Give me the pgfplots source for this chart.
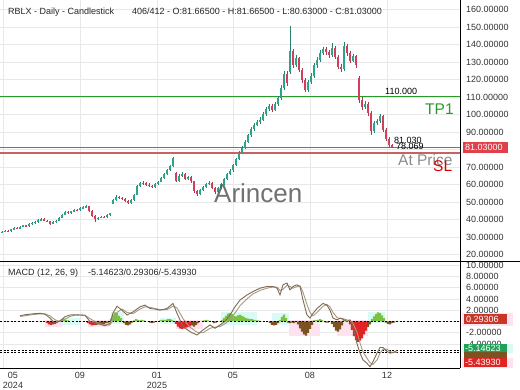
\documentclass[border=0pt]{standalone}
\usepackage{pgfplots}
\pgfplotsset{compat=1.18}
\usepackage{pgfplotstable}
\usepackage{fontspec}
\setmainfont{Liberation Sans}

\definecolor{gridc}{HTML}{E8E8E8}
\definecolor{upc}{HTML}{2AA58A}
\definecolor{dnc}{HTML}{D33F5A}
\definecolor{upw}{HTML}{2A8070}
\definecolor{dnw}{HTML}{A33A4E}
\definecolor{tpgreen}{HTML}{2A9A2A}
\definecolor{slred}{HTML}{C96262}
\definecolor{histg}{HTML}{7CC242}
\definecolor{histb}{HTML}{7B5222}
\definecolor{histr}{HTML}{E02424}
\definecolor{pinkbg}{HTML}{FDE2EF}
\definecolor{cyanbg}{HTML}{D9FBF5}
\definecolor{macdc}{HTML}{7D6B55}
\definecolor{sigc}{HTML}{A89880}
\definecolor{boxred}{HTML}{E0404A}
\definecolor{boxgreen}{HTML}{22A05A}
\definecolor{boxhist}{HTML}{C8352A}

\pgfplotstableread{
x o h l c
2 32.6 33.5 32.2 33.0
5 33.0 34.0 32.7 33.6
11 33.3 34.8 33.0 34.4
14 34.4 35.6 34.0 35.2
20 34.8 36.4 34.5 36.0
23 36.0 37.0 35.7 36.6
29 36.2 37.9 35.9 37.5
32 37.5 38.5 37.1 38.1
35 38.1 39.0 37.7 38.6
38 38.6 40.1 38.2 39.6
41 39.6 40.8 39.2 40.2
53 37.6 39.0 37.2 38.6
56 38.6 39.6 38.2 39.2
59 39.2 41.5 38.9 41.0
62 41.0 43.1 40.6 42.6
65 42.6 45.0 42.3 44.5
71 43.8 45.1 43.4 44.6
74 44.6 46.1 44.2 45.6
80 45.2 47.0 44.9 46.5
83 46.5 47.5 46.1 47.0
86 47.0 48.3 46.6 47.6
98 40.3 41.5 39.8 41.0
101 41.0 42.0 40.6 41.6
107 41.3 43.0 41.0 42.5
110 42.5 44.0 42.2 43.6
113 49.0 51.8 48.6 51.2
116 51.2 53.8 50.8 53.1
131 49.4 51.5 49.0 51.0
134 51.0 54.7 50.7 54.2
137 54.2 59.6 53.9 59.0
140 59.0 61.7 58.6 61.0
155 58.4 60.6 58.0 60.1
158 60.1 62.2 59.7 61.6
161 61.6 64.2 61.2 63.6
164 63.6 66.6 63.2 66.0
167 66.0 68.8 65.6 68.1
170 68.1 71.2 67.7 70.6
173 70.6 75.8 70.2 75.0
179 62.0 65.8 61.5 65.0
182 65.0 67.0 64.4 66.2
188 63.0 65.0 62.5 64.2
200 54.6 57.6 54.0 57.0
203 57.0 59.2 56.5 58.6
206 58.6 60.8 58.0 60.2
209 60.2 61.8 59.6 61.1
218 55.6 58.8 55.0 58.2
221 58.2 60.8 57.6 60.1
224 60.1 63.7 59.5 63.0
227 63.0 66.8 62.4 66.1
230 66.1 68.8 65.4 68.0
233 68.0 72.0 67.4 71.2
236 71.2 75.4 70.6 74.6
239 74.6 79.0 74.0 78.1
242 78.1 82.0 77.4 81.0
245 81.0 85.2 80.3 84.2
248 84.2 89.0 83.5 88.0
251 88.0 92.6 87.2 91.6
254 91.6 95.2 90.8 94.1
257 94.1 96.8 93.2 95.6
260 95.6 98.4 94.8 97.1
263 97.1 101.4 96.2 100.2
266 100.2 104.4 99.2 103.0
269 103.0 106.0 102.0 104.6
275 102.8 107.4 101.8 106.1
278 106.1 110.6 105.0 109.2
281 109.2 117.0 108.4 115.2
284 115.2 125.0 114.2 123.4
290 124.5 150.5 123.0 136.0
296 128.2 134.0 127.0 132.0
308 114.2 119.8 113.0 118.4
311 118.4 123.6 117.2 122.2
314 122.2 129.6 121.0 128.1
317 128.1 132.8 126.8 131.2
320 131.2 136.6 130.0 135.0
323 135.0 138.8 133.8 137.2
332 133.8 140.6 132.6 138.2
344 126.0 141.2 125.0 139.0
353 130.8 134.8 129.8 133.4
365 104.2 107.6 103.0 106.2
374 90.4 96.2 89.6 95.0
377 95.0 97.4 93.8 96.2
380 96.2 100.2 95.2 99.0
}\upcandles

\pgfplotstableread{
x o h l c
8 33.6 34.2 33.0 33.3
17 35.2 35.7 34.3 34.8
26 36.6 37.1 35.8 36.2
44 40.2 40.6 39.0 39.4
47 39.4 39.9 38.4 38.9
50 38.9 39.2 37.0 37.6
68 44.5 45.0 43.3 43.8
77 45.6 46.2 44.8 45.2
89 47.6 47.9 44.5 45.0
92 45.0 45.3 41.4 42.0
95 42.0 42.4 38.8 40.3
104 41.6 42.1 40.8 41.3
119 53.1 53.6 51.8 52.4
122 52.4 52.9 51.2 51.8
125 51.8 52.2 49.8 50.4
128 50.4 50.9 48.8 49.4
143 61.0 61.8 60.0 60.6
146 60.6 61.2 59.4 60.0
149 60.0 60.6 58.8 59.4
152 59.4 59.9 57.8 58.4
176 66.5 67.0 61.2 62.0
185 66.2 66.8 62.3 63.0
191 64.2 64.8 61.0 61.8
194 61.8 62.2 55.4 56.2
197 56.2 56.8 53.6 54.6
212 61.1 61.6 57.4 58.0
215 58.0 58.5 54.8 55.6
272 104.6 106.0 101.4 102.8
287 123.4 124.6 116.2 117.8
293 136.0 137.4 126.8 128.2
299 132.0 133.0 124.0 125.6
302 125.6 126.8 118.2 119.8
305 119.8 121.0 112.6 114.2
326 137.2 138.6 134.2 135.8
329 135.8 137.0 132.2 133.8
335 138.2 139.4 131.6 133.0
338 133.0 134.2 125.8 127.2
341 127.2 129.0 124.4 126.0
347 139.0 140.2 133.6 135.2
350 135.2 136.4 129.4 130.8
356 133.4 134.2 126.6 128.0
359 121.0 122.0 106.8 108.4
362 108.4 109.8 102.6 104.2
368 106.2 107.2 99.2 100.8
371 100.8 101.8 88.4 90.4
383 99.0 99.8 90.0 91.2
386 91.2 92.0 85.0 86.2
389 86.2 87.0 81.4 82.6
392 82.6 83.2 80.6 81.4
395 81.665 81.665 80.63 81.03
}\dncandles

\pgfplotstableread{
x v
60 0.2
62 0.4
64 0.5
66 0.3
68 0.2
111 0.5
113 1.2
115 1.6
117 1.5
119 1.0
121 0.6
134 0.2
136 0.4
138 0.3
140 0.2
142 0.3
144 0.2
160 0.2
162 0.3
164 0.3
166 0.3
168 0.4
170 0.4
172 0.3
204 0.2
206 0.3
208 0.2
210 0.1
222 0.3
224 0.6
226 1.0
228 1.4
230 1.5
232 1.3
234 1.0
236 0.9
238 1.1
240 1.2
242 1.0
244 0.8
246 0.6
248 0.5
250 0.4
252 0.4
254 0.3
256 0.2
258 0.2
260 0.1
280 0.3
282 0.8
284 1.2
286 0.6
314 0.2
316 0.3
318 0.3
320 0.4
322 0.3
344 0.3
346 0.2
372 0.4
374 0.9
376 1.3
378 1.6
380 1.5
382 1.1
384 0.6
396 0.1
}\histgreen

\pgfplotstableread{
x v
53 -0.5
55 -0.4
57 -0.2
96 -0.6
98 -0.5
100 -0.4
102 -0.5
104 -0.4
106 -0.3
108 -0.2
124 -0.3
126 -0.6
128 -0.7
130 -0.5
132 -0.2
150 -0.2
152 -0.3
154 -0.2
192 -0.7
194 -0.9
196 -0.6
198 -0.3
214 -0.3
216 -0.2
270 -0.3
272 -0.6
274 -0.7
276 -0.6
278 -0.3
288 -0.2
290 -0.3
292 -0.2
294 -0.3
298 -0.5
300 -1.2
302 -1.8
304 -2.3
306 -2.5
308 -2.0
310 -1.3
312 -0.6
326 -0.2
328 -0.2
332 -0.4
334 -1.0
336 -1.6
338 -1.8
340 -1.4
342 -0.7
368 -1.0
370 -0.5
386 -0.2
388 -0.4
390 -0.5
392 -0.3
394 -0.2
}\histbrown

\pgfplotstableread{
x v
47 -0.3
49 -0.5
51 -0.6
88 -0.3
90 -0.5
92 -0.7
94 -0.6
176 -0.4
178 -0.9
180 -1.2
182 -1.3
184 -1.2
186 -1.1
188 -1.0
190 -0.8
350 -0.5
352 -1.5
354 -2.6
356 -3.3
358 -3.6
360 -3.4
362 -3.0
364 -2.3
366 -1.6
}\histred

\pgfplotstableread{
x m s
20 1.0 0.9
25 1.2 1.0
30 1.3 1.15
35 1.4 1.25
40 1.45 1.35
45 1.3 1.35
50 0.6 1.0
55 -0.3 0.3
60 0.1 0.0
65 0.85 0.4
70 1.15 0.9
75 1.2 1.1
80 1.15 1.15
85 1.1 1.1
90 0.0 0.5
95 -0.3 0.0
100 -0.5 -0.4
105 -0.75 -0.6
110 -0.3 -0.6
113 1.5 0.2
117 2.7 1.6
122 2.0 2.2
127 1.15 1.6
133 1.7 1.4
140 2.6 2.2
145 2.9 2.6
150 2.3 2.5
155 2.2 2.3
160 2.0 2.1
167 2.3 2.1
173 3.2 2.7
177 1.45 2.4
183 -0.9 0.5
190 -1.8 -1.0
197 -2.4 -1.9
203 -1.5 -2.0
210 -0.6 -1.2
215 -1.2 -1.0
220 -0.6 -0.9
225 0.0 -0.4
230 1.15 0.3
235 2.6 1.5
240 3.8 2.8
247 4.7 4.0
253 5.3 4.9
260 5.9 5.5
267 6.2 5.9
273 6.2 6.1
277 5.9 6.1
280 4.7 5.5
283 6.5 5.7
287 6.8 6.4
290 5.6 6.2
293 6.2 5.9
297 6.5 6.2
300 6.2 6.3
303 3.8 5.2
307 1.15 3.0
310 0.6 1.6
313 1.45 1.0
317 2.3 1.6
323 3.2 2.7
327 2.9 3.0
330 2.0 2.6
333 0.6 1.6
337 0.3 0.7
340 0.6 0.5
343 0.4 0.5
347 0.0 0.3
350 0.3 0.1
353 -0.9 -0.3
357 -3.9 -1.9
360 -5.6 -3.8
363 -6.8 -5.4
367 -7.4 -6.5
370 -8.0 -7.3
373 -7.1 -7.6
377 -5.6 -6.8
380 -4.6 -5.6
383 -4.6 -4.9
387 -5.3 -4.9
390 -5.6 -5.3
393 -5.5 -5.5
397 -5.15 -5.44
}\macd

\pgfplotsset{
  ticklab/.style={font=\fontsize{9}{10}\selectfont, text=black!80},
  chartbase/.style={
    scale only axis, anchor=south west, width=460pt,
    xmin=0, xmax=460,
    axis line style={draw=none},
    major tick length=0pt,
    grid=major,
    major grid style={gridc, line width=0.8pt},
    xtick={3,80,157,233,310,387},
    yticklabel pos=right,
    yticklabel style={ticklab, anchor=west, inner sep=0pt, xshift=6pt},
    /pgf/number format/.cd, fixed, zerofill, precision=5, assume math mode=true,
  },
}

\begin{document}
\begin{tikzpicture}
\useasboundingbox (0pt,0pt) rectangle (520pt,390pt);
\fill[white] (0pt,0pt) rectangle (520pt,390pt);

% ---------- price panel ----------
\begin{axis}[chartbase,
  at={(0pt,129pt)}, height=261pt,
  ymin=16.29, ymax=165.43,
  xticklabels={},
  ytick={20,30,...,160},
]
\addplot[tpgreen, line width=1pt, forget plot] coordinates {(0,110) (460,110)};
\addplot[black!55, line width=0.8pt, forget plot] coordinates {(0,81.03) (460,81.03)};
\addplot[slred, line width=2.3pt, forget plot] coordinates {(0,78.069) (460,78.069)};

\addplot[draw=none, mark=none, forget plot,
  error bars/.cd, y dir=both, y explicit, error mark=none,
  error bar style={draw=upw, line width=0.6pt}]
  table[x=x, y expr={(\thisrow{h}+\thisrow{l})/2}, y error expr={(\thisrow{h}-\thisrow{l})/2}] {\upcandles};
\addplot[draw=none, mark=none, forget plot,
  error bars/.cd, y dir=both, y explicit, error mark=none,
  error bar style={draw=dnw, line width=0.6pt}]
  table[x=x, y expr={(\thisrow{h}+\thisrow{l})/2}, y error expr={(\thisrow{h}-\thisrow{l})/2}] {\dncandles};
\addplot[draw=none, mark=none, forget plot,
  error bars/.cd, y dir=both, y explicit, error mark=none,
  error bar style={draw=upc, line width=1.7pt}]
  table[x=x, y expr={(\thisrow{o}+\thisrow{c})/2}, y error expr={abs(\thisrow{c}-\thisrow{o})/2}] {\upcandles};
\addplot[draw=none, mark=none, forget plot,
  error bars/.cd, y dir=both, y explicit, error mark=none,
  error bar style={draw=dnc, line width=1.7pt}]
  table[x=x, y expr={(\thisrow{o}+\thisrow{c})/2}, y error expr={abs(\thisrow{c}-\thisrow{o})/2}] {\dncandles};
\end{axis}

% ---------- MACD panel ----------
\begin{axis}[chartbase,
  at={(0pt,22pt)}, height=107pt,
  ymin=-8.23, ymax=10.71,
  xticklabels={,09,{01\\2025},05,08,12},
  extra x ticks={13},
  extra x tick labels={{05\\2024}},
  extra x tick style={grid=none},
  xticklabel style={ticklab, align=center, anchor=north, inner sep=0pt, yshift=-4.5pt},
  ytick={-4,-2,0,2,4,6,8,10},
]
\fill[pinkbg] (axis cs:45,-1.0) rectangle (axis cs:62,0.3);
\fill[cyanbg] (axis cs:62,-0.6) rectangle (axis cs:80,0.6);
\fill[pinkbg] (axis cs:88,-1.0) rectangle (axis cs:110,0.3);
\fill[cyanbg] (axis cs:111,-0.5) rectangle (axis cs:124,1.7);
\fill[cyanbg] (axis cs:160,-0.5) rectangle (axis cs:176,0.6);
\fill[pinkbg] (axis cs:176,-1.4) rectangle (axis cs:203,0.3);
\fill[cyanbg] (axis cs:221,-0.6) rectangle (axis cs:257,1.7);
\fill[cyanbg] (axis cs:272,-0.6) rectangle (axis cs:289,1.5);
\fill[pinkbg] (axis cs:289,-2.5) rectangle (axis cs:320,0.2);
\fill[pinkbg] (axis cs:337,-2.5) rectangle (axis cs:368,0.2);
\fill[cyanbg] (axis cs:368,-0.3) rectangle (axis cs:385,1.7);

\addplot[ybar, bar width=2.1pt, bar shift=0pt, fill=histg, draw=none, forget plot] table[x=x,y=v] {\histgreen};
\addplot[ybar, bar width=2.1pt, bar shift=0pt, fill=histb, draw=none, forget plot] table[x=x,y=v] {\histbrown};
\addplot[ybar, bar width=2.1pt, bar shift=0pt, fill=histr, draw=none, forget plot] table[x=x,y=v] {\histred};

\addplot[black, line width=0.8pt, dash pattern=on 2pt off 1.6pt, forget plot] coordinates {(0,0) (460,0)};
\addplot[black, line width=0.8pt, dash pattern=on 2pt off 1.6pt, forget plot] coordinates {(0,-5.14623) (460,-5.14623)};
\addplot[black, line width=0.8pt, dash pattern=on 2pt off 1.6pt, forget plot] coordinates {(0,-5.4393) (460,-5.4393)};

\addplot[sigc, line width=0.9pt, forget plot] table[x=x,y=s] {\macd};
\addplot[macdc, line width=0.9pt, forget plot] table[x=x,y=m] {\macd};
\end{axis}

% ---------- frame lines ----------
\draw[black, line width=0.8pt] (0pt,129pt) -- (520pt,129pt);
\draw[black, line width=0.8pt] (460pt,22pt) -- (460pt,390pt);
\draw[black, line width=0.8pt] (0pt,22pt) -- (460pt,22pt);

% ---------- texts ----------
\node[anchor=west, inner sep=0pt, font=\fontsize{9}{10}\selectfont, text=black!85] at (8pt,378pt)
  {RBLX - Daily - Candlestick\hspace{2em}406/412 - O:81.66500 - H:81.66500 - L:80.63000 - C:81.03000};
\node[anchor=west, inner sep=0pt, font=\fontsize{9}{10}\selectfont, text=black!85] at (8pt,116.7pt)
  {MACD (12, 26, 9)\hspace{1.1em}-5.14623/0.29306/-5.43930};

\node[anchor=west, inner sep=0pt, font=\fontsize{26}{28}\selectfont, text=black!65, opacity=0.85] at (214pt,197pt) {Arincen};

\node[anchor=west, inner sep=0pt, font=\fontsize{9}{10}\selectfont] at (385pt,298.5pt) {110.000};
\node[anchor=west, inner sep=0pt, font=\fontsize{15.5}{17}\selectfont, text=tpgreen] at (425pt,281pt) {TP1};
\node[anchor=west, inner sep=0pt, font=\fontsize{9}{10}\selectfont] at (394pt,249.3pt) {81.030};
\node[anchor=west, inner sep=0pt, font=\fontsize{9}{10}\selectfont] at (396pt,243.3pt) {78.069};
\node[anchor=west, inner sep=0pt, font=\fontsize{15.5}{17}\selectfont, text=black!45] at (398pt,230pt) {At Price};
\node[anchor=west, inner sep=0pt, font=\fontsize{15.5}{17}\selectfont, text=red!85!black] at (433pt,224pt) {SL};

% ---------- right-side value boxes ----------
\fill[boxred] (463pt,237pt) rectangle (508pt,247.5pt);
\node[anchor=west, inner sep=0pt, font=\fontsize{9}{10}\selectfont, text=white] at (465pt,242.3pt) {81.03000};

\fill[pinkbg] (462pt,64pt) rectangle (513pt,77pt);
\fill[boxhist] (464pt,65.5pt) rectangle (507pt,75.5pt);
\node[anchor=west, inner sep=0pt, font=\fontsize{9}{10}\selectfont, text=white] at (466pt,70.5pt) {0.29306};

\fill[cyanbg] (462pt,37pt) rectangle (513pt,45.5pt);
\fill[pinkbg] (462pt,22pt) rectangle (513pt,32pt);
\fill[boxgreen] (464pt,37.5pt) rectangle (507pt,45.5pt);
\fill[histb] (464pt,31pt) rectangle (507pt,37.5pt);
\fill[histr] (464pt,23pt) rectangle (507pt,31.5pt);
\node[anchor=west, inner sep=0pt, font=\fontsize{9}{10}\selectfont, text=white] at (465pt,41.5pt) {-5.14623};
\node[anchor=west, inner sep=0pt, font=\fontsize{9}{10}\selectfont, text=white] at (465pt,27.5pt) {-5.43930};
\end{tikzpicture}
\end{document}
